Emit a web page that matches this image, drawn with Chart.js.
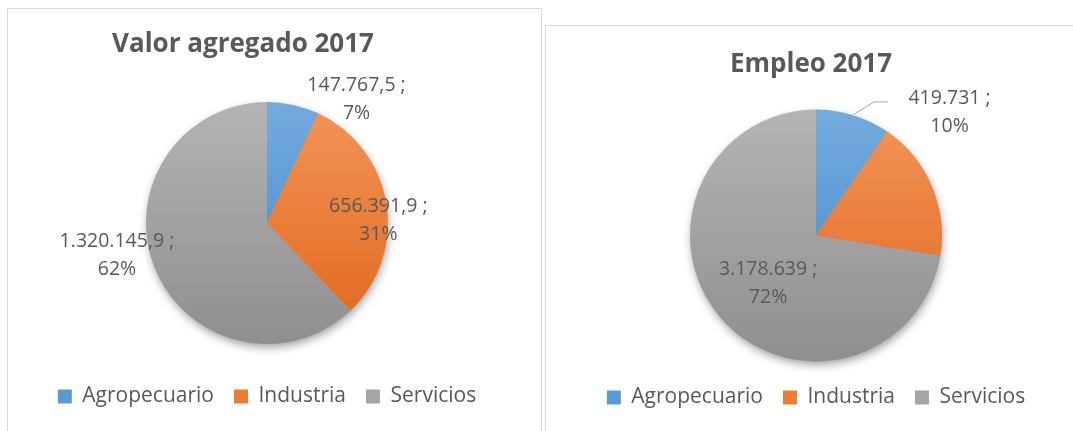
<!DOCTYPE html>
<html>
<head>
<meta charset="utf-8">
<script src="https://cdn.jsdelivr.net/npm/chart.js@4.4.1/dist/chart.umd.min.js"></script>
<style>
  body { margin: 0; background: #fff; width: 1073px; height: 431px; overflow: hidden; position: relative; }
  .panel { position: absolute; border: 1px solid #d9d9d9; background: #fff; }
  #p1 { left: 7px; top: 8px; width: 533px; height: 440px; }
  #p2 { left: 545px; top: 25px; width: 540px; height: 420px; }
  canvas { display: block; }
</style>
</head>
<body>
<div class="panel" id="p1"><canvas id="c1" width="533" height="422"></canvas></div>
<div class="panel" id="p2"><canvas id="c2" width="527" height="405"></canvas></div>

<script>
// data
const sectores      = ['Agropecuario', 'Industria', 'Servicios']
const valorAgregado = [147767.5, 656391.9, 1320145.9]
const empleo        = [419731, 790000, 3178639]

// colours (office-like gradient, light at top)
const colTop    = ['#74abde', '#f29559', '#b4b4b4']
const colBottom = ['#3f87cc', '#e2661a', '#8f8f8f']
const colMid    = ['#5b9bd5', '#ed7d31', '#a5a5a5']
const TEXT = '#595959'
const FONT = '"Open Sans", "DejaVu Sans", sans-serif'

// "1.320.145,9"
function fmtNum(v, dec) {
  const parts = v.toFixed(dec).split('.')
  const int = parts[0].replace(/\B(?=(\d{3})+(?!\d))/g, '.')
  return parts[1] ? int + ',' + parts[1] : int
}

function sliceGradient(ctx, i) {
  const chart = ctx.chart
  const area = chart.chartArea
  if (!area) return colMid[i]
  const r = chart.options.plugins.sliceLabels.radius
  const cy = (area.top + area.bottom) / 2
  const g = chart.ctx.createLinearGradient(0, cy - r, 0, cy + r)
  g.addColorStop(0, colTop[i])
  g.addColorStop(1, colBottom[i])
  return g
}

const panelTitle = {
  id: 'panelTitle',
  afterDraw(chart, args, opts) {
    const c = chart.ctx
    c.save()
    c.font = 'bold 26px ' + FONT
    c.fillStyle = TEXT
    c.textAlign = 'center'
    c.textBaseline = 'middle'
    c.fillText(opts.text, opts.x, opts.y)
    c.restore()
  }
}

const pieShadow = {
  id: 'pieShadow',
  beforeDatasetsDraw(chart) {
    const arc = chart.getDatasetMeta(0).data[0]
    if (!arc) return
    const c = chart.ctx
    c.save()
    c.shadowColor = 'rgba(0,0,0,0.4)'
    c.shadowBlur = 10
    c.shadowOffsetX = 1
    c.shadowOffsetY = 4
    c.fillStyle = '#999'
    c.beginPath()
    c.arc(arc.x, arc.y, arc.outerRadius - 1, 0, Math.PI * 2)
    c.fill()
    c.restore()
  }
}

const sliceLabels = {
  id: 'sliceLabels',
  afterDatasetsDraw(chart, args, opts) {
    const meta = chart.getDatasetMeta(0)
    const vals = chart.data.datasets[0].data
    const total = vals.reduce((a, b) => a + b, 0)
    const c = chart.ctx
    c.save()
    c.font = '19.5px ' + FONT
    c.fillStyle = TEXT
    c.textAlign = 'center'
    c.textBaseline = 'middle'
    meta.data.forEach((arc, i) => {
      const pos = opts.pos[i]
      if (!pos) return
      const r = arc.outerRadius
      const x = arc.x + pos[0] * r
      const y = arc.y + pos[1] * r
      c.fillText(fmtNum(vals[i], opts.decimals) + ' ;', x, y - 14)
      c.fillText(Math.round(vals[i] / total * 100) + '%', x, y + 14)
      const lead = opts.leaders && opts.leaders[i]
      if (lead) {
        c.strokeStyle = '#a6a6a6'
        c.lineWidth = 1
        c.beginPath()
        lead.forEach((p, k) => {
          const px = arc.x + p[0] * r, py = arc.y + p[1] * r
          k ? c.lineTo(px, py) : c.moveTo(px, py)
        })
        c.stroke()
      }
    })
    c.restore()
  }
}

function makePie(id, values, o) {
  return new Chart(document.getElementById(id), {
    type: 'pie',
    data: {
      labels: sectores,
      datasets: [{
        data: values,
        backgroundColor: ctx => sliceGradient(ctx, ctx.dataIndex),
        borderWidth: 0,
        radius: o.radius,
      }]
    },
    options: {
      responsive: false,
      animation: false,
      layout: { padding: o.padding },
      plugins: {
        title: { display: false },
        tooltip: { enabled: false },
        legend: {
          position: 'bottom',
          labels: {
            boxWidth: 14,
            boxHeight: 14,
            padding: 20,
            color: TEXT,
            font: { size: 21, family: FONT },
            generateLabels: chart => chart.data.labels.map((l, i) => ({
              text: l, fillStyle: colMid[i], strokeStyle: colMid[i],
              lineWidth: 0, hidden: false, index: i, fontColor: TEXT,
            }))
          }
        },
        panelTitle: o.title,
        sliceLabels: { radius: o.radius, decimals: o.decimals, pos: o.labelPos, leaders: o.leaders },
      }
    },
    plugins: [pieShadow, sliceLabels, panelTitle]
  })
}

makePie('c1', valorAgregado, {
  radius: 121,
  padding: { top: 71, bottom: 14, left: 0, right: 15 },
  title: { text: 'Valor agregado 2017', x: 235, y: 36 },
  decimals: 1,
  labelPos: [[0.74, -1.02], [0.92, -0.02], [-1.24, 0.27]],
})

makePie('c2', empleo, {
  radius: 126,
  padding: { top: 78, bottom: 13, left: 13, right: 0 },
  title: { text: 'Empleo 2017', x: 265, y: 39 },
  decimals: 0,
  labelPos: [[1.06, -0.98], null, [-0.38, 0.38]],
  leaders: [[[0.30, -0.96], [0.46, -1.06], [0.57, -1.06]], null, null],
})
</script>
</body>
</html>
